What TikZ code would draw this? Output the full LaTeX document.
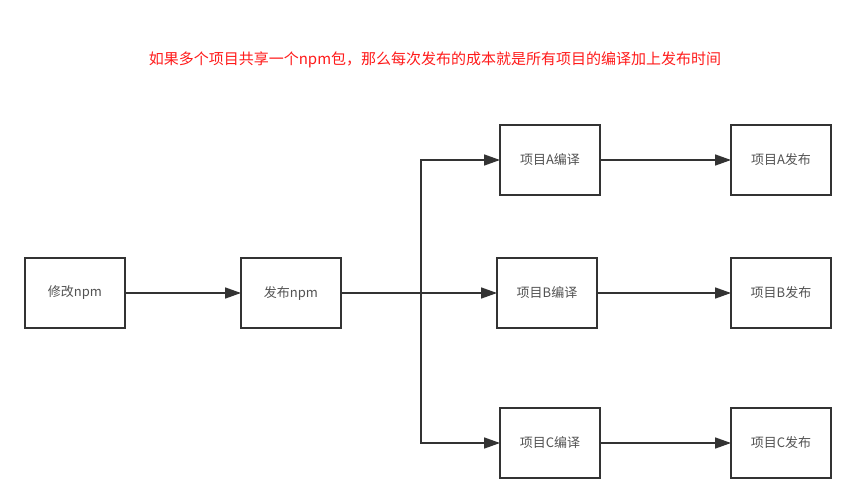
\documentclass[tikz,border=0pt]{standalone}
\usepackage{fontspec}
\setmainfont{Noto Sans CJK SC}
\usetikzlibrary{arrows.meta}
\definecolor{ink}{HTML}{333333}
\definecolor{titlered}{HTML}{FF1A1A}
\tikzset{
  box/.style={draw=ink, line width=1.6pt, minimum width=100pt, minimum height=70pt, inner sep=0pt, outer sep=0pt, text=ink!85, font=\fontsize{13pt}{15pt}\selectfont, anchor=north west},
  line/.style={draw=ink, line width=1.6pt},
  conn/.style={line, -{Triangle[length=16pt,width=11pt]}},
}
\begin{document}
\begin{tikzpicture}[x=1pt,y=-1pt]
\useasboundingbox (0,0) rectangle (856,503);
\node[text=titlered, font=\fontsize{15pt}{17pt}\selectfont] (title) at (435,60) {如果多个项目共享一个npm包，那么每次发布的成本就是所有项目的编译加上发布时间};
\node[box] (modify) at (25,258) {修改npm};
\node[box] (publish) at (241,258) {发布npm};
\node[box] (ca) at (500,125) {项目A编译};
\node[box] (cb) at (497,258) {项目B编译};
\node[box] (cc) at (500,408) {项目C编译};
\node[box] (pa) at (731,125) {项目A发布};
\node[box] (pb) at (731,258) {项目B发布};
\node[box] (pc) at (731,408) {项目C发布};
\coordinate (jx) at (421,0);
\coordinate (j) at (publish.east -| jx);
\draw[conn] (modify) -- (publish);
\draw[line] (publish.east) -- (j);
\draw[conn] (j) -- (cb.west);
\draw[conn] (j) |- (ca.west);
\draw[conn] (j) |- (cc.west);
\draw[conn] (ca) -- (pa);
\draw[conn] (cb) -- (pb);
\draw[conn] (cc) -- (pc);
\end{tikzpicture}
\end{document}
